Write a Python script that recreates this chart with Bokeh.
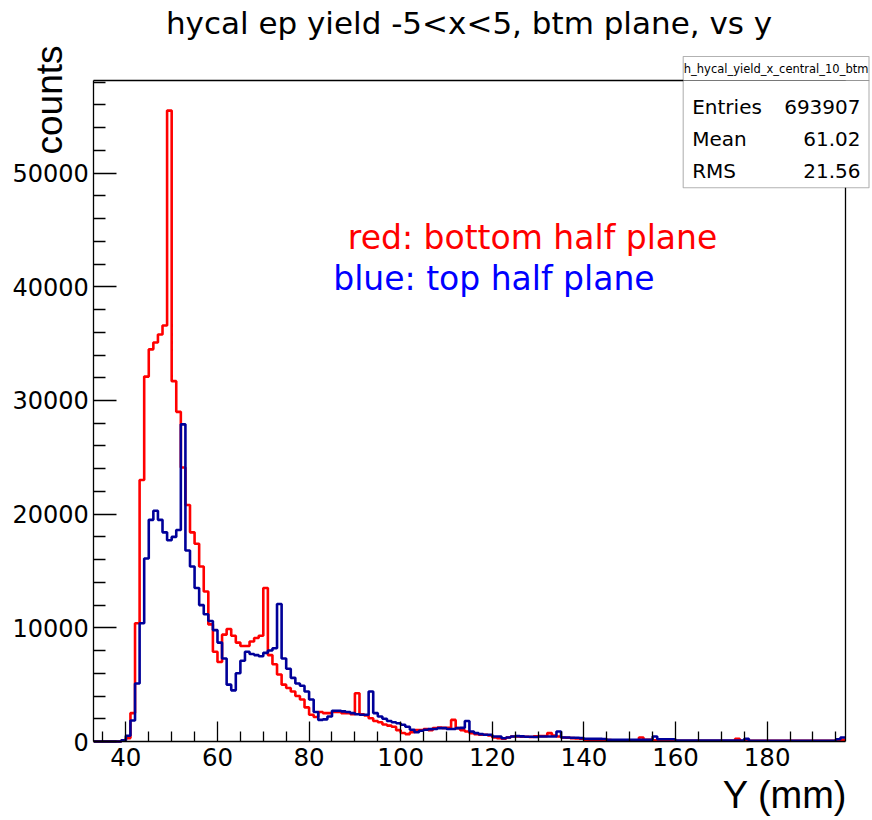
from bokeh.plotting import figure
from bokeh.models import Range1d, Label, BoxAnnotation, FixedTicker, LinearAxis
from bokeh.embed import file_html
from bokeh.resources import INLINE

# ---------------- data (1 mm bins, lower edges 33 .. 196) ----------------
bin_lo = list(range(33, 197))

red_counts = [
    0, 0, 0, 0, 0, 0, 100, 300, 2500, 10400,            # 33-42
    23000, 32100, 34500, 35100, 35800, 36600, 55500, 31700, 29000, 24100,  # 43-52
    20800, 18400, 17400, 15400, 13200, 10300, 7900, 7000, 9400, 9900,     # 53-62
    9300, 8700, 8400, 8400, 8800, 9100, 9300, 13500, 7600, 6800,          # 63-72
    5900, 5000, 4700, 4400, 4000, 3700, 3000, 2350, 2150, 2600,           # 73-82
    2500, 2500, 2600, 2600, 2500, 2500, 2400, 4250, 2400, 2300,           # 83-92
    2050, 1800, 1700, 1500, 1400, 1300, 1000, 750, 650, 820,              # 93-102
    1000, 1000, 1090, 1000, 1180, 1230, 1200, 1200, 1900, 1180,           # 103-112
    1000, 880, 740, 650, 590, 590, 530, 350, 290, 240,                    # 113-122
    350, 440, 440, 420, 420, 400, 450, 470, 470, 740,                     # 123-132
    530, 440, 350, 330, 300, 260, 240, 160, 150, 150,                     # 133-142
    140, 140, 120, 110, 100, 100, 100, 90, 100, 350,                      # 143-152
    150, 140, 100, 90, 90, 80, 80, 70, 70, 70,                            # 153-162
    60, 60, 60, 60, 60, 60, 60, 60, 60, 60,                               # 163-172
    240, 60, 60, 60, 60, 60, 60, 60, 60, 60,                              # 173-182
    60, 60, 60, 60, 60, 60, 60, 60, 60, 60,                               # 183-192
    60, 60, 150, 150,                                                     # 193-196
]

blue_counts = [
    0, 0, 0, 0, 0, 0, 100, 500, 1850, 5100,             # 33-42
    10400, 16100, 19500, 20300, 19500, 18400, 17700, 18000, 18600, 27900,  # 43-52
    16800, 15400, 13500, 12000, 11200, 10600, 9800, 8700, 7300, 5000,     # 53-62
    4500, 6000, 7100, 7900, 7700, 7600, 7500, 7800, 8000, 8200,           # 63-72
    12100, 7300, 6400, 5600, 5100, 4900, 4400, 3700, 2600, 1900,          # 73-82
    1950, 2200, 2700, 2700, 2650, 2600, 2500, 2400, 2350, 2350,           # 83-92
    4400, 2500, 2200, 2000, 1800, 1700, 1600, 1470, 1300, 1030,           # 93-102
    820, 940, 1030, 1090, 1100, 1180, 1180, 1100, 1100, 1180,             # 103-112
    1200, 1800, 880, 740, 650, 590, 590, 440, 440, 290,                   # 113-122
    350, 440, 470, 450, 420, 420, 400, 440, 440, 440,                     # 123-132
    440, 880, 350, 350, 330, 330, 300, 240, 235, 230,                     # 133-142
    230, 220, 150, 150, 150, 150, 150, 150, 150, 150,                     # 143-152
    150, 150, 440, 200, 200, 200, 200, 90, 90, 90,                        # 153-162
    90, 90, 90, 90, 90, 90, 90, 90, 90, 90,                               # 163-172
    90, 90, 235, 60, 60, 60, 60, 60, 60, 60,                              # 173-182
    60, 60, 60, 60, 60, 60, 60, 60, 60, 60,                               # 183-192
    60, 60, 200, 350,                                                     # 193-196
]

x_major = [40, 60, 80, 100, 120, 140, 160, 180]
x_minor = [35, 45, 50, 55, 65, 70, 75, 85, 90, 95, 105, 110, 115, 125, 130, 135,
           145, 150, 155, 165, 170, 175, 185, 190, 195]
y_major = [0, 10000, 20000, 30000, 40000, 50000]
y_minor = [2000, 4000, 6000, 8000, 12000, 14000, 16000, 18000, 22000, 24000, 26000,
           28000, 32000, 34000, 36000, 38000, 42000, 44000, 46000, 48000, 52000,
           54000, 56000, 58000]

title_text = "hycal ep yield -5<x<5, btm plane, vs y"
stats_name = "h_hycal_yield_x_central_10_btm"
stats_rows = [("Entries", "693907"), ("Mean", "61.02"), ("RMS", "21.56")]

X_LO, X_HI = 33, 197.1      # histogram axis range
Y_LO, Y_HI = 0, 58150

FONT = "DejaVu Sans"
W, H = 870, 818

# pixel <-> data helpers (frame covers the whole canvas; axes are fixed inside)
FL, FR, FT, FB = 93.3, 845.0, 80.0, 741.0
SX = (FR - FL) / (X_HI - X_LO)
SY = (FB - FT) / (Y_HI - Y_LO)


def px_x(px):
    return X_LO + (px - FL) / SX


def px_y(py):
    return Y_LO + (FB - py) / SY


p = figure(width=W, height=H,
           x_range=Range1d(px_x(0), px_x(W)), y_range=Range1d(px_y(H), px_y(0)),
           output_backend="svg", toolbar_location=None, title_location=None,
           min_border_left=0, min_border_right=0,
           min_border_top=0, min_border_bottom=0)
p.background_fill_color = "white"
p.border_fill_color = "white"
p.outline_line_color = None
p.xgrid.grid_line_color = None
p.ygrid.grid_line_color = None

xa = p.xaxis[0]
xa.fixed_location = Y_LO
xa.bounds = (X_LO, X_HI)
xa.ticker = FixedTicker(ticks=x_major, minor_ticks=x_minor)
xa.major_tick_in = 20
xa.major_tick_out = 0
xa.minor_tick_in = 10
xa.minor_tick_out = 0
xa.axis_line_width = 1.3
xa.major_tick_line_width = 1.3
xa.minor_tick_line_width = 1.3
xa.major_label_text_font = FONT
xa.major_label_text_font_size = "24.5px"
xa.major_label_text_color = "black"
xa.major_label_standoff = 6

ya = p.yaxis[0]
ya.fixed_location = X_LO
ya.bounds = (Y_LO, Y_HI)
ya.ticker = FixedTicker(ticks=y_major, minor_ticks=y_minor)
ya.major_label_overrides = {v: str(v) for v in y_major}
ya.major_tick_in = 23
ya.major_tick_out = 0
ya.minor_tick_in = 12
ya.minor_tick_out = 0
ya.axis_line_width = 1.3
ya.major_tick_line_width = 1.3
ya.minor_tick_line_width = 1.3
ya.major_label_text_font = FONT
ya.major_label_text_font_size = "24px"
ya.major_label_text_color = "black"
ya.major_label_standoff = 5

# frame top and right edges as tick-less axes
top_ax = LinearAxis(fixed_location=Y_HI, bounds=(X_LO, X_HI),
                    ticker=FixedTicker(ticks=[]), axis_line_width=1.3,
                    major_tick_line_color=None, minor_tick_line_color=None)
right_ax = LinearAxis(fixed_location=X_HI, bounds=(Y_LO, Y_HI),
                      ticker=FixedTicker(ticks=[]), axis_line_width=1.3,
                      major_tick_line_color=None, minor_tick_line_color=None)
p.add_layout(top_ax, "above")
p.add_layout(right_ax, "right")

# ---------------- histograms ----------------
edges = bin_lo + [bin_lo[-1] + 1]
p.step(edges, red_counts + [red_counts[-1]], mode="after",
       line_color="#ff0000", line_width=2.6)
p.step(edges, blue_counts + [blue_counts[-1]], mode="after",
       line_color="#000099", line_width=2.6)

# ---------------- texts (anchored at their visual middle) ----------------
p.add_layout(Label(x=px_x(468.5), y=px_y(22.4), text=title_text, text_font=FONT,
                   text_font_size="31px", text_align="center",
                   text_baseline="middle", text_color="black"))
p.add_layout(Label(x=px_x(49.2), y=px_y(45), text="counts", text_font="Liberation Sans",
                   text_font_size="37px", text_align="right", angle=1.5708,
                   text_baseline="middle", text_color="black"))
p.add_layout(Label(x=px_x(846.7), y=px_y(794), text="Y (mm)",
                   text_font="Liberation Sans",
                   text_font_size="38px", text_align="right",
                   text_baseline="middle", text_color="black"))
p.add_layout(Label(x=px_x(347.3), y=px_y(236.8), text="red: bottom half plane",
                   text_font=FONT, text_font_size="33px", text_align="left",
                   text_baseline="middle", text_color="#ff0000"))
p.add_layout(Label(x=px_x(332.7), y=px_y(277.5), text="blue: top half plane",
                   text_font=FONT, text_font_size="33px", text_align="left",
                   text_baseline="middle", text_color="#0000ff"))

# ---------------- stats box ----------------
BL, BR, BT, BS, BB = 682.7, 868.5, 56.0, 80.0, 187.3
p.add_layout(BoxAnnotation(left=px_x(BL), right=px_x(BR), bottom=px_y(BS), top=px_y(BT),
                           fill_color="white", fill_alpha=1.0,
                           line_color="black", line_width=1.1))
p.add_layout(BoxAnnotation(left=px_x(BL), right=px_x(BR), bottom=px_y(BB), top=px_y(BS),
                           fill_color="white", fill_alpha=1.0,
                           line_color="black", line_width=1.1))
p.add_layout(Label(x=px_x((BL + BR) / 2), y=px_y(68.5), text=stats_name, text_font=FONT,
                   text_font_size="11.5px", text_align="center",
                   text_baseline="middle", text_color="black"))
row_mid = [106.7, 138.3, 170.0]
for (name, val), yy in zip(stats_rows, row_mid):
    p.add_layout(Label(x=px_x(691.7), y=px_y(yy), text=name, text_font=FONT,
                       text_font_size="20px", text_align="left",
                       text_baseline="middle", text_color="black"))
    p.add_layout(Label(x=px_x(860), y=px_y(yy), text=val, text_font=FONT,
                       text_font_size="20px", text_align="right",
                       text_baseline="middle", text_color="black"))

open("out.html", "w").write(file_html(p, INLINE))
